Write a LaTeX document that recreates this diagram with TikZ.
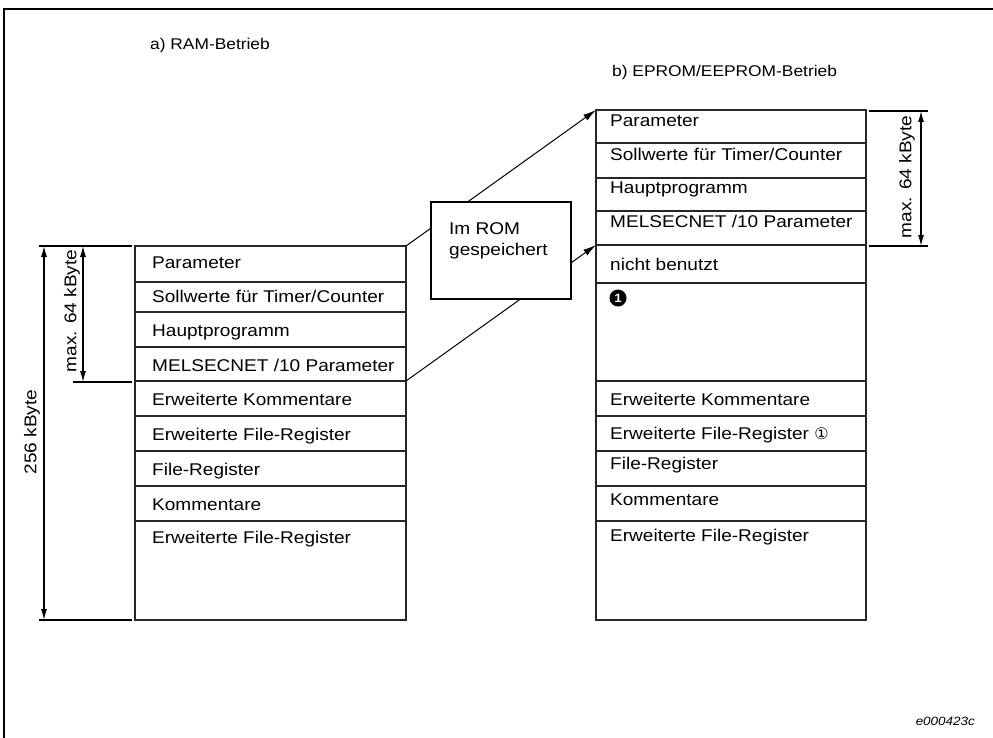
\documentclass[tikz,border=0pt]{standalone}
\usepackage{fontspec}
\setmainfont[FakeStretch=1.12]{Liberation Sans}
\newfontfamily\symfont{DejaVu Sans}
\usetikzlibrary{arrows.meta}
% one memory row: name, x left, x right, y top, y bottom, text x, text baseline, text
\newcommand{\memrow}[8]{%
  \node[cell, anchor=north west, minimum width=#3-#2, minimum height=#5-#4] (#1) at (#2,#4) {};
  \node[lbl, anchor=base west] (#1t) at (#6,#7) {#8};}
\begin{document}
\begin{tikzpicture}[x=1pt,y=-1pt,
  cell/.style={draw=black!85, line width=1.1pt, inner sep=0pt, outer sep=0pt},
  lbl/.style={inner sep=0pt, font=\fontsize{17}{17}\selectfont},
  ttl/.style={inner sep=0pt, font=\fontsize{15.5}{15.5}\selectfont, anchor=base west},
  ext/.style={line width=2pt},
  dim/.style={line width=1.2pt, {Latex[length=11pt,width=6pt]}-{Latex[length=11pt,width=6pt]}},
  conn/.style={line width=1pt, -{Latex[length=13pt,width=7pt]}},
  rombox/.style={draw=black, line width=1.1pt, fill=white, inner sep=0pt, outer sep=0pt}]
\useasboundingbox (0,0) rectangle (993,738);
% page frame
\draw[line width=2pt] (4,738) -- (4,9) -- (993,9);

% titles
\node[ttl] (ta) at (150,50) {a) RAM-Betrieb};
\node[ttl] (tb) at (612,77) {b) EPROM/EEPROM-Betrieb};

% left stack: RAM operation
\memrow{l1}{135}{406}{246}{282}{152}{268}{Parameter}
\memrow{l2}{135}{406}{282}{312}{152}{302}{Sollwerte für Timer/Counter}
\memrow{l3}{135}{406}{312}{347}{152}{336}{Hauptprogramm}
\memrow{l4}{135}{406}{347}{381}{152}{371}{MELSECNET /10 Parameter}
\memrow{l5}{135}{406}{381}{416}{152}{405}{Erweiterte Kommentare}
\memrow{l6}{135}{406}{416}{451}{152}{440}{Erweiterte File-Register}
\memrow{l7}{135}{406}{451}{486}{152}{475}{File-Register}
\memrow{l8}{135}{406}{486}{521}{152}{510}{Kommentare}
\memrow{l9}{135}{406}{521}{620}{152}{543}{Erweiterte File-Register}

% right stack: EPROM/EEPROM operation
\memrow{r1}{596}{866}{110}{143}{610}{127}{Parameter}
\memrow{r2}{596}{866}{143}{178}{610}{161}{Sollwerte für Timer/Counter}
\memrow{r3}{596}{866}{178}{211}{610}{194}{Hauptprogramm}
\memrow{r4}{596}{866}{211}{245}{610}{228}{MELSECNET /10 Parameter}
\memrow{r5}{596}{866}{245}{283}{610}{270}{nicht benutzt}
\memrow{r6}{596}{866}{283}{381}{610}{300}{}
\memrow{r7}{596}{866}{381}{416}{610}{405}{Erweiterte Kommentare}
\memrow{r8}{596}{866}{416}{451}{610}{439}{Erweiterte File-Register {\symfont\fontsize{16}{16}\selectfont ①}}
\memrow{r9}{596}{866}{451}{486}{610}{469}{File-Register}
\memrow{r10}{596}{866}{486}{521}{610}{505}{Kommentare}
\memrow{r11}{596}{866}{521}{620}{610}{541}{Erweiterte File-Register}

% marker in the unused area
\node[circle, fill=black, inner sep=0pt, minimum size=17pt, text=white,
      font=\bfseries\fontsize{12}{12}\selectfont] (m1) at (618,298) {1};

% connectors from RAM to EPROM, passing behind the ROM box
\draw[conn] (l1.north east) -- (r1.north west);
\draw[conn] (l4.south east) -- (r5.north west);

% ROM box
\node[rombox, anchor=north west, minimum width=140, minimum height=97] (rom) at (431,202) {};
\node[lbl, anchor=base west] (rom1) at (449,235) {Im ROM};
\node[lbl, anchor=base west] (rom2) at (449,255) {gespeichert};

% left dimensions
\coordinate (a1) at (39,246);  \coordinate (a2) at (132,246);
\coordinate (b1) at (73,382);  \coordinate (b2) at (132,382);
\coordinate (c1) at (39,620);  \coordinate (c2) at (132,620);
\draw[ext] (a1) -- (a2);
\draw[ext] (b1) -- (b2);
\draw[ext] (c1) -- (c2);
\coordinate (d1) at (44,246);  \coordinate (d2) at (44,620);
\coordinate (e1) at (83,246);  \coordinate (e2) at (83,382);
\draw[dim] (d1) -- (d2);
\draw[dim] (e1) -- (e2);
\node[lbl, rotate=90] (k256) at (32,432) {256 kByte};
\node[lbl, rotate=90] (k64a) at (72,311) {max. 64 kByte};

% right dimensions
\coordinate (f1) at (869,111); \coordinate (f2) at (928,111);
\coordinate (g1) at (869,246); \coordinate (g2) at (928,246);
\draw[ext] (f1) -- (f2);
\draw[ext] (g1) -- (g2);
\coordinate (h1) at (921,111); \coordinate (h2) at (921,246);
\draw[dim] (h1) -- (h2);
\node[lbl, rotate=90] (k64b) at (907,177) {max. 64 kByte};

% figure code
\node[inner sep=0pt, anchor=base east, font=\itshape\fontsize{12}{12}\selectfont] (code) at (975,725) {e000423c};
\end{tikzpicture}
\end{document}
